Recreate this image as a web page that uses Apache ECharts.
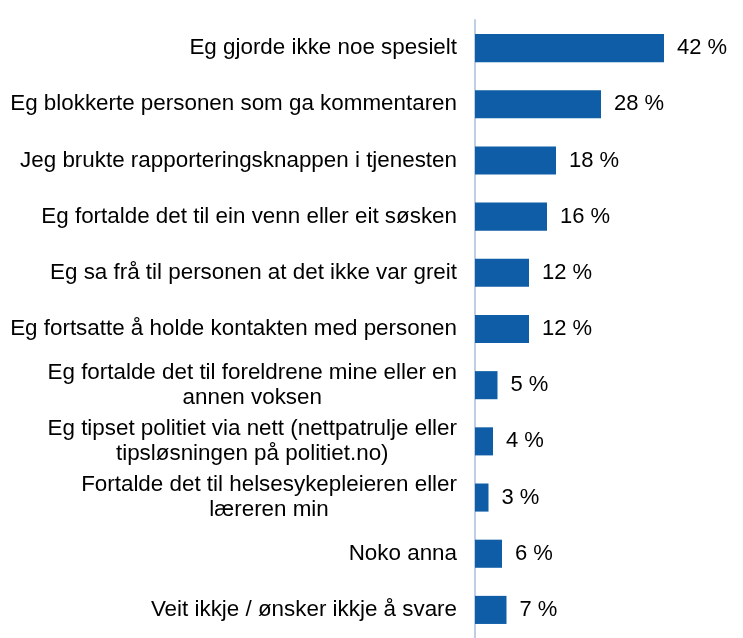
<!DOCTYPE html>
<html>
	<head>
		<meta charset="utf-8">
		<title></title>
		<script src="https://cdn.jsdelivr.net/npm/echarts@6/dist/echarts.min.js"></script>
	</head>
	<body style="margin:0">
		<div id="main" style="width: 743px;height:638px;"></div>
		<script>
			var categories = [
				'Eg gjorde ikke noe spesielt',
				'Eg blokkerte personen som ga kommentaren',
				'Jeg brukte rapporteringsknappen i tjenesten',
				'Eg fortalde det til ein venn eller eit søsken',
				'Eg sa frå til personen at det ikke var greit',
				'Eg fortsatte å holde kontakten med personen',
				'Eg fortalde det til foreldrene mine eller en\nannen voksen',
				'Eg tipset politiet via nett (nettpatrulje eller\ntipsløsningen på politiet.no)',
				'Fortalde det til helsesykepleieren eller\nlæreren min',
				'Noko anna',
				'Veit ikkje / ønsker ikkje å svare'
			];
			var values = [42, 28, 18, 16, 12, 12, 5, 4, 3, 6, 7];

			var myChart = echarts.init(document.getElementById('main'));
			var option = {
				animation: false,
				grid: {
					left: 475,
					right: 43,
					top: 20,
					bottom: 0
				},
				xAxis: {
					type: 'value',
					min: 0,
					max: 50,
					show: false
				},
				yAxis: {
					type: 'category',
					inverse: true,
					data: categories,
					axisLine: { lineStyle: { color: '#BFCFE3', width: 2 } },
					axisTick: { show: false },
					axisLabel: {
						margin: 18,
						align: 'right',
						// linjene i fleirlinjeetikettar er midtstilte seg imellom
						formatter: function (v) {
							return v.split('\n').map(function (s) {
								return '{c|' + s + '}';
							}).join('\n');
						},
						rich: {
							c: {
								align: 'center',
								color: '#000',
								fontFamily: 'Liberation Sans, Arial',
								fontSize: 22.4,
								lineHeight: 24.5
							}
						}
					}
				},
				series: [{
					type: 'bar',
					data: values,
					barCategoryGap: '50%',
					itemStyle: { color: '#0E5DA6' },
					label: {
						show: true,
						position: 'right',
						distance: 13,
						formatter: '{c} %',
						color: '#000',
						fontFamily: 'Liberation Sans, Arial',
						fontSize: 22
					}
				}]
			};
			myChart.setOption(option);
		</script>
	</body>
</html>
